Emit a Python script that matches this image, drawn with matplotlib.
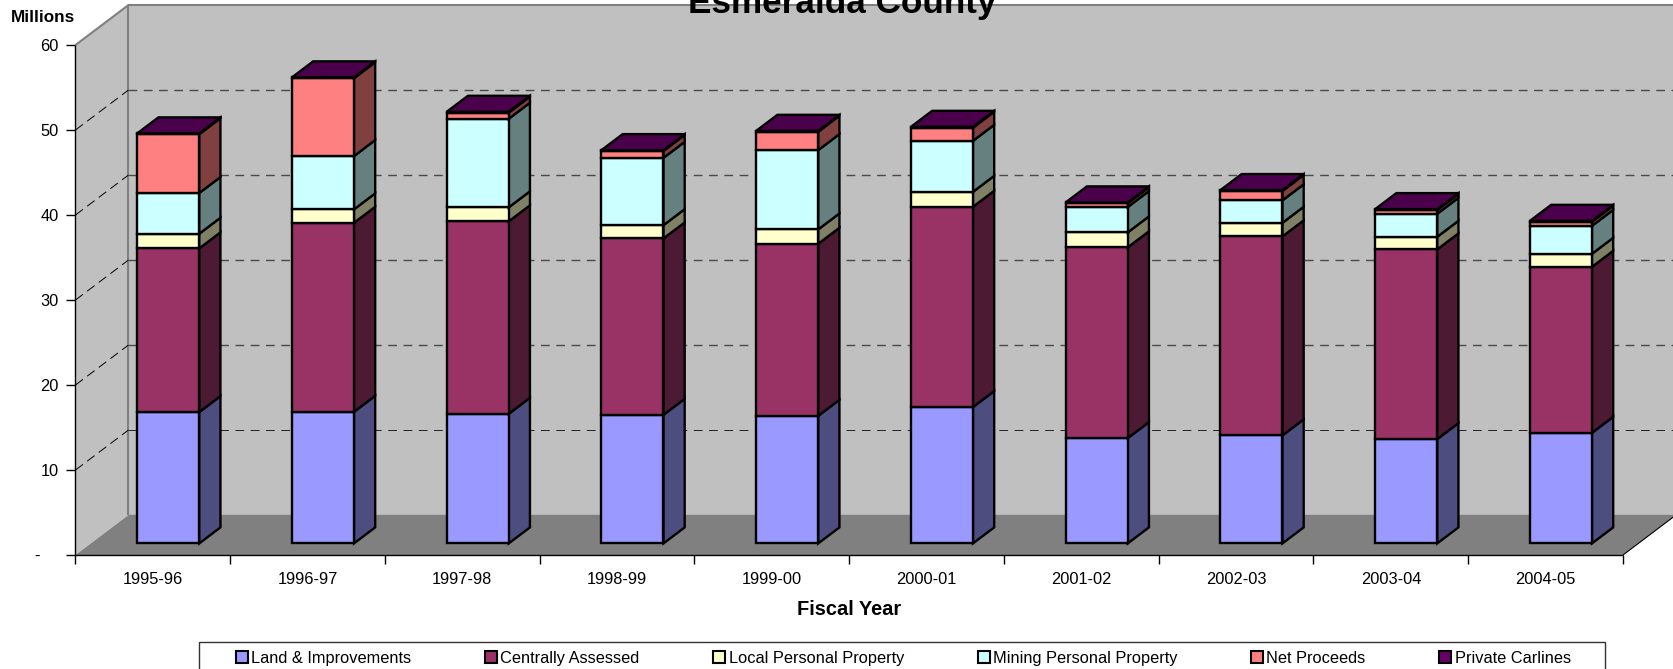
import matplotlib
matplotlib.use('Agg')
from matplotlib import pyplot as plt
from matplotlib.patches import Patch, Rectangle

years = ['1995-96', '1996-97', '1997-98', '1998-99', '1999-00',
         '2000-01', '2001-02', '2002-03', '2003-04', '2004-05']

land = [15.45, 15.48, 15.25, 15.13, 15.01, 16.04, 12.39, 12.71, 12.27, 13.01]
central = [19.26, 22.24, 22.64, 20.75, 20.24, 23.56, 22.44, 23.41, 22.32, 19.53]
local = [1.72, 1.58, 1.65, 1.56, 1.69, 1.76, 1.76, 1.6, 1.48, 1.53]
mining = [4.79, 6.27, 10.42, 7.92, 9.33, 6.0, 2.98, 2.64, 2.71, 3.29]
proceeds = [6.92, 9.16, 0.72, 0.81, 2.17, 1.55, 0.45, 1.11, 0.45, 0.49]
carlines = [0.1, 0.1, 0.1, 0.1, 0.1, 0.1, 0.1, 0.1, 0.1, 0.1]

series = [land, central, local, mining, proceeds, carlines]
names = ['Land & Improvements', 'Centrally Assessed', 'Local Personal Property',
         'Mining Personal Property', 'Net Proceeds', 'Private Carlines']
fronts = ['#9999FF', '#993366', '#FFFFCC', '#CCFFFF', '#FF8080', '#660066']
sides = ['#4D4D80', '#4D1A33', '#808066', '#668080', '#804040', '#330033']
cap_color = '#4B004B'

y_ticks = [10, 20, 30, 40, 50, 60]

# pixel layout of the original picture
W, H = 1674, 669
X0, X1 = 75.5, 1623.0
Y0, PX_PER_M = 555.0, 8.5
PX_PER_CAT = (X1 - X0) / len(years)
DEPTH_X = 53.0 / PX_PER_CAT
DEPTH_Y = 40.0 / PX_PER_M

# bar sits between these depths of the floor, 0 is front and 1 is back
BAR_D0, BAR_D1 = 0.29, 0.69
BAR_W = 62.0 / PX_PER_CAT

plt.rcParams['font.family'] = ['Liberation Sans', 'DejaVu Sans']

fig = plt.figure(figsize=(W / 100, H / 100), dpi=100)
ax = fig.add_axes([0, 0, 1, 1])
ax.set_xlim(-X0 / PX_PER_CAT, (W - X0) / PX_PER_CAT)
ax.set_ylim((Y0 - H) / PX_PER_M, Y0 / PX_PER_M)
ax.axis('off')


def pt(x, y, d=0.0):
    return x + d * DEPTH_X, y + d * DEPTH_Y


def face(points, color, edge='black', lw=1.7, z=2):
    xs = [p[0] for p in points]
    ys = [p[1] for p in points]
    ax.fill(xs, ys, facecolor=color, edgecolor=edge, linewidth=lw, zorder=z,
            joinstyle='miter')


def seg(a, b, color='black', lw=1.0, z=1.5, **kw):
    ax.plot([a[0], b[0]], [a[1], b[1]], color=color, linewidth=lw, zorder=z,
            solid_capstyle='butt', **kw)


n = len(years)
wall_gray = '#C0C0C0'
line_gray = '#808080'

# walls and floor
right = (W - X0) / PX_PER_CAT + 1
face([pt(0, 0, 1), pt(right, 0, 1), pt(right, 60, 1), pt(0, 60, 1)], wall_gray, edge='none', z=1)
face([pt(0, 0, 0), pt(0, 0, 1), pt(0, 60, 1), pt(0, 60, 0)], wall_gray, edge='none', z=1)
face([pt(0, 0, 0), pt(n, 0, 0), pt(n, 0, 1), pt(0, 0, 1)], '#808080', edge='none', z=1.1)
seg(pt(0, 0, 1), pt(0, 60, 1), line_gray, 1.5)
seg(pt(0, 60, 0), pt(0, 60, 1), line_gray, 1.5)
seg(pt(0, 60, 1), pt(right, 60, 1), line_gray, 1.5)
seg(pt(0, 0, 1), pt(n, 0, 1), line_gray, 1.0)
seg(pt(n, 0, 0), pt(n, 0, 1), 'black', 0.8)

# gridlines, the lowest one comes out thinner and darker in the original
for v in y_ticks[:-1]:
    lw, color = (0.7, '#222222') if v == 10 else (1.0, '#4A4A4A')
    dash = (0, (6.3 / lw, 4.7 / lw))
    seg(pt(0, v, 0), pt(0, v, 1), 'black', 0.7, linestyle=(0, (9.6, 5.4)))
    seg(pt(0, v, 1), pt(right, v, 1), color, lw, linestyle=dash)

# axes
seg(pt(0, 0), pt(0, 60), 'black', 1.0, z=1.6)
seg(pt(0, 0), pt(n, 0), 'black', 1.0, z=1.6)
tick_x = 9.5 / PX_PER_CAT
tick_y = 9.0 / PX_PER_M
for v in [0] + y_ticks:
    seg(pt(-tick_x, v), pt(0, v), 'black', 1.0, z=1.6)
for v in y_ticks:
    ax.text(-17.0 / PX_PER_CAT, v, str(v), ha='right', va='center_baseline',
            fontsize=11.8, color='black')
# zero shows as a dash further out
ax.text(-36.0 / PX_PER_CAT, 0, '-', ha='right', va='center_baseline', fontsize=11.8)
for i in range(n + 1):
    seg(pt(i, 0), pt(i, -tick_y), 'black', 1.0, z=1.6)
for i, label in enumerate(years):
    ax.text(i + 0.5, -23.0 / PX_PER_M, label, ha='center', va='center_baseline', fontsize=11.8)

# stacked bars
for i in range(n):
    x0 = i + 0.5 - BAR_W / 2
    x1 = x0 + BAR_W
    bottom = 0.0
    for s, values in enumerate(series):
        top = bottom + values[i]
        # side first, the front hides its edge
        face([pt(x1, bottom, BAR_D0), pt(x1, bottom, BAR_D1),
              pt(x1, top, BAR_D1), pt(x1, top, BAR_D0)], sides[s], z=3 + i * 0.01 + s * 0.001)
        face([pt(x0, bottom, BAR_D0), pt(x1, bottom, BAR_D0),
              pt(x1, top, BAR_D0), pt(x0, top, BAR_D0)], fronts[s], z=3 + i * 0.01 + s * 0.001)
        bottom = top
    face([pt(x0, bottom, BAR_D0), pt(x1, bottom, BAR_D0),
          pt(x1, bottom, BAR_D1), pt(x0, bottom, BAR_D1)], cap_color, z=3.007 + i * 0.01)

# title runs off the top edge in the original
ax.text((842.5 - X0) / PX_PER_CAT, (Y0 - 12.7) / PX_PER_M, 'Esmeralda County', ha='center',
        va='baseline', fontsize=25.3, fontweight='bold', zorder=6)
ax.text((10.5 - X0) / PX_PER_CAT, (Y0 - 15.5) / PX_PER_M, 'Millions', ha='left',
        va='center_baseline', fontsize=12.3, fontweight='bold')
ax.text((849 - X0) / PX_PER_CAT, (Y0 - 607.5) / PX_PER_M, 'Fiscal Year', ha='center',
        va='center_baseline', fontsize=14.4, fontweight='bold')

# legend box is cut by the bottom of the figure
ax.add_patch(Rectangle((199 / W, -0.05), (1605 - 199) / W, (H - 642) / H + 0.05,
                       transform=fig.transFigure, facecolor='white',
                       edgecolor='#333333', linewidth=1.0, zorder=4))
handles = [Patch(facecolor=c, edgecolor='black', linewidth=1.5) for c in fronts]
ax.legend(handles, names, ncol=6, frameon=False, fontsize=11.8, loc='center left',
          bbox_to_anchor=(236 / W, (H - 658.5) / H), bbox_transform=fig.transFigure,
          borderpad=0, borderaxespad=0, handlelength=0.73, handleheight=0.73,
          handletextpad=0.2, columnspacing=4.5)

fig.savefig('out.png', dpi=100, facecolor='white')
